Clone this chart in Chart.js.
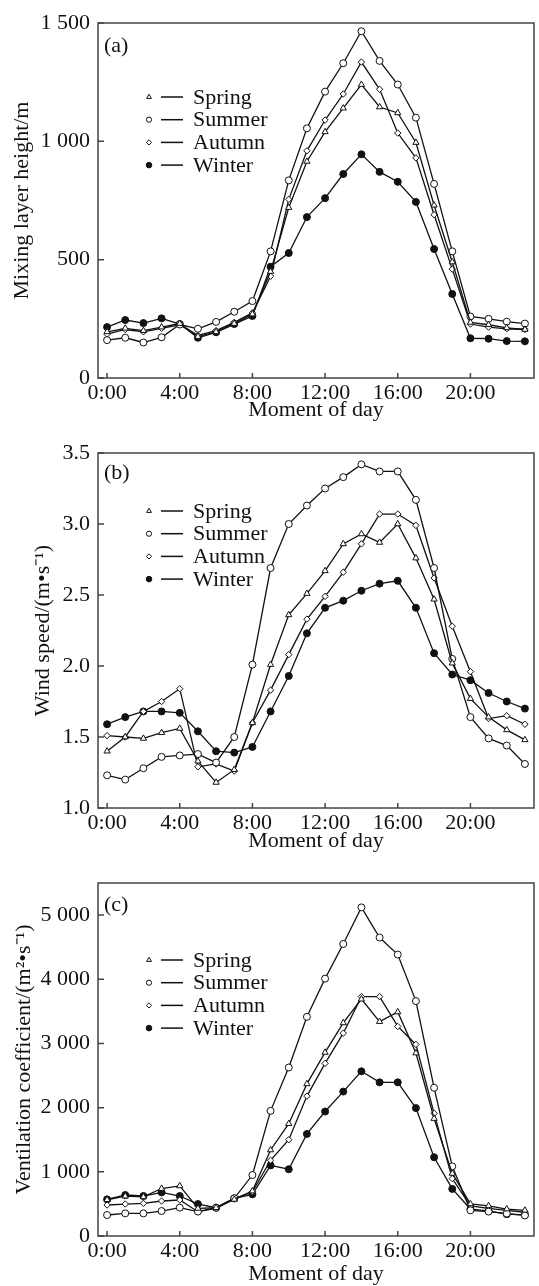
<!DOCTYPE html>
<html>
<head>
<meta charset="utf-8">
<script src="https://cdn.jsdelivr.net/npm/chart.js@4.4.0/dist/chart.umd.min.js"></script>
<style>
  html, body { margin: 0; padding: 0; background: #fff; }
  .panel { position: absolute; left: 0; width: 539px; }
  #wrapA { top: 0; }
  #wrapB { top: 430px; }
  #wrapC { top: 860px; }
</style>
</head>
<body>
<div class="panel" id="wrapA"><canvas id="chartA" width="539" height="430"></canvas></div>
<div class="panel" id="wrapB"><canvas id="chartB" width="539" height="430"></canvas></div>
<div class="panel" id="wrapC"><canvas id="chartC" width="539" height="426"></canvas></div>
<script>
const hours = [0, 1, 2, 3, 4, 5, 6, 7, 8, 9, 10, 11, 12, 13, 14, 15, 16, 17, 18, 19, 20, 21, 22, 23];
const hourTicks = [0, 4, 8, 12, 16, 20];
const seasons = ['Spring', 'Summer', 'Autumn', 'Winter'];

// (a) mixing layer height, m
const mlhSpring = [195, 210, 200, 215, 230, 175, 195, 230, 270, 450, 720, 915, 1040, 1140, 1240, 1145, 1120, 995, 730, 490, 235, 225, 212, 205];
const mlhSummer = [160, 170, 150, 172, 226, 208, 237, 280, 325, 535, 835, 1055, 1210, 1330, 1465, 1340, 1240, 1100, 820, 535, 260, 250, 238, 230];
const mlhAutumn = [185, 205, 195, 210, 225, 180, 200, 235, 275, 430, 755, 960, 1090, 1200, 1335, 1220, 1035, 930, 690, 460, 228, 215, 208, 205];
const mlhWinter = [215, 245, 232, 252, 228, 170, 193, 228, 262, 470, 528, 680, 760, 862, 945, 871, 829, 744, 545, 355, 168, 166, 156, 155];

// (b) wind speed, m/s
const wsSpring = [1.40, 1.50, 1.49, 1.53, 1.56, 1.33, 1.18, 1.27, 1.60, 2.01, 2.36, 2.51, 2.67, 2.86, 2.93, 2.87, 3.00, 2.76, 2.47, 2.02, 1.77, 1.64, 1.55, 1.48];
const wsSummer = [1.23, 1.20, 1.28, 1.36, 1.37, 1.38, 1.32, 1.50, 2.01, 2.69, 3.00, 3.13, 3.25, 3.33, 3.42, 3.37, 3.37, 3.17, 2.69, 2.05, 1.64, 1.49, 1.44, 1.31];
const wsAutumn = [1.51, 1.50, 1.68, 1.75, 1.84, 1.29, 1.31, 1.26, 1.60, 1.83, 2.08, 2.33, 2.49, 2.66, 2.86, 3.07, 3.07, 2.99, 2.62, 2.28, 1.96, 1.63, 1.65, 1.59];
const wsWinter = [1.59, 1.64, 1.68, 1.68, 1.67, 1.54, 1.40, 1.39, 1.43, 1.68, 1.93, 2.23, 2.41, 2.46, 2.53, 2.58, 2.60, 2.41, 2.09, 1.94, 1.90, 1.81, 1.75, 1.70];

// (c) ventilation coefficient, m2/s
const vcSpring = [565, 620, 610, 740, 780, 430, 440, 570, 700, 1340, 1750, 2370, 2860, 3320, 3690, 3340, 3490, 2850, 1830, 975, 500, 470, 420, 400];
const vcSummer = [327, 353, 353, 389, 441, 380, 441, 587, 950, 1950, 2625, 3415, 4010, 4550, 5120, 4650, 4385, 3660, 2310, 1085, 400, 380, 350, 320];
const vcAutumn = [483, 498, 509, 545, 561, 379, 430, 580, 690, 1180, 1500, 2180, 2690, 3160, 3730, 3730, 3265, 2985, 1910, 895, 470, 430, 400, 370];
const vcWinter = [571, 639, 623, 680, 623, 498, 441, 587, 649, 1100, 1040, 1590, 1940, 2250, 2566, 2394, 2394, 1993, 1227, 734, 420, 390, 340, 330];

const FONT = '"Liberation Serif", "Times New Roman", serif';
const INK = '#111';

// plot marker and the smaller legend marker for each season
const markers = [
    { pointStyle: 'triangle', radius: 3.6, legend: 2.8, fill: '#fff' },
    { pointStyle: 'circle', radius: 3.5, legend: 2.6, fill: '#fff' },
    { pointStyle: 'rectRot', radius: 3.2, legend: 2.6, fill: '#fff' },
    { pointStyle: 'circle', radius: 3.5, legend: 2.8, fill: INK }
];

function toXY(values) {
    return values.map((v, i) => ({ x: hours[i], y: v }));
}

function spaced(v) {
    return String(v).replace(/\B(?=(\d{3})+(?!\d))/g, ' ');
}

function drawMarker(ctx, m, x, y) {
    ctx.fillStyle = m.fill;
    ctx.strokeStyle = INK;
    ctx.lineWidth = 1;
    if (Chart.helpers && Chart.helpers.drawPoint) {
        Chart.helpers.drawPoint(ctx, { pointStyle: m.pointStyle, radius: m.legend, rotation: 0, borderWidth: 1 }, x, y);
    } else {
        ctx.beginPath();
        ctx.arc(x, y, m.legend, 0, Math.PI * 2);
        ctx.fill();
        ctx.stroke();
    }
}

const framePlugin = {
    id: 'frame',
    beforeDatasetsDraw(chart) {
        const { ctx, chartArea: a, scales: { x, y } } = chart;
        ctx.save();
        ctx.strokeStyle = '#444';
        ctx.lineWidth = 1.5;
        ctx.strokeRect(a.left, a.top, a.right - a.left, a.bottom - a.top);
        ctx.beginPath();
        hourTicks.forEach(v => {
            const px = x.getPixelForValue(v);
            ctx.moveTo(px, a.bottom);
            ctx.lineTo(px, a.bottom - 5);
        });
        y.ticks.forEach(t => {
            const py = y.getPixelForValue(t.value);
            ctx.moveTo(a.left, py);
            ctx.lineTo(a.left + 6, py);
        });
        ctx.stroke();
        ctx.restore();
    },
    afterDraw(chart, args, opts) {
        const { ctx, chartArea: a } = chart;
        ctx.save();
        ctx.font = '22px ' + FONT;
        ctx.fillStyle = INK;
        ctx.textBaseline = 'middle';
        ctx.fillText(opts.tag, a.left + 6, a.top + opts.tagDy);
        seasons.forEach((name, i) => {
            const ry = a.top + opts.legendTop + i * 22.7;
            drawMarker(ctx, markers[i], a.left + 51, ry);
            ctx.strokeStyle = INK;
            ctx.lineWidth = 1.5;
            ctx.beginPath();
            ctx.moveTo(a.left + 63, ry);
            ctx.lineTo(a.left + 85, ry);
            ctx.stroke();
            ctx.fillStyle = INK;
            ctx.font = '22px ' + FONT;
            ctx.fillText(name, a.left + 95, ry + 1);
        });
        ctx.restore();
    }
};

function makeChart(id, p) {
    const datasets = p.series.map((vals, i) => ({
        label: seasons[i],
        data: toXY(vals),
        borderColor: INK,
        borderWidth: 1.3,
        tension: 0,
        pointStyle: markers[i].pointStyle,
        pointRadius: markers[i].radius,
        pointBackgroundColor: markers[i].fill,
        pointBorderColor: INK,
        pointBorderWidth: 1
    }));

    new Chart(document.getElementById(id), {
        type: 'line',
        data: { datasets },
        options: {
            responsive: false,
            animation: false,
            layout: { padding: { top: 23, right: 1, left: 0, bottom: 0 } },
            plugins: {
                legend: { display: false },
                tooltip: { enabled: false },
                frame: { tag: p.tag, tagDy: p.tagDy, legendTop: p.legendTop }
            },
            scales: {
                x: {
                    type: 'linear',
                    min: -0.5,
                    max: 23.5,
                    afterBuildTicks: s => { s.ticks = hourTicks.map(v => ({ value: v })); },
                    afterFit: s => { s.height = p.xHeight; },
                    grid: { display: false, drawTicks: false },
                    border: { display: false },
                    ticks: {
                        font: { family: FONT, size: 22 },
                        color: INK,
                        padding: 2,
                        maxRotation: 0,
                        autoSkip: false,
                        callback: v => v + ':00'
                    },
                    title: {
                        display: true,
                        text: 'Moment of day',
                        color: INK,
                        font: { family: FONT, size: 22, lineHeight: 1 },
                        padding: { top: 0, bottom: p.xTitlePad }
                    }
                },
                y: {
                    min: p.min,
                    max: p.max,
                    afterBuildTicks: s => { s.ticks = p.yTicks.map(v => ({ value: v })); },
                    afterFit: s => { s.width = 98; },
                    grid: { display: false, drawTicks: false },
                    border: { display: false },
                    ticks: {
                        font: { family: FONT, size: 22 },
                        color: INK,
                        padding: 8,
                        callback: p.fmt
                    },
                    title: {
                        display: true,
                        text: p.yTitle,
                        color: INK,
                        font: { family: FONT, size: 22, lineHeight: 1 },
                        padding: { top: p.yTitlePad, bottom: 0 }
                    }
                }
            }
        },
        plugins: [framePlugin]
    });
}

makeChart('chartA', {
    series: [mlhSpring, mlhSummer, mlhAutumn, mlhWinter],
    min: 0, max: 1500, yTicks: [0, 500, 1000, 1500],
    fmt: v => spaced(v),
    yTitle: 'Mixing layer height/m', yTitlePad: 11,
    xHeight: 52, xTitlePad: 9,
    tag: '(a)', tagDy: 23, legendTop: 74
});

makeChart('chartB', {
    series: [wsSpring, wsSummer, wsAutumn, wsWinter],
    min: 1.0, max: 3.5, yTicks: [1.0, 1.5, 2.0, 2.5, 3.0, 3.5],
    fmt: v => v.toFixed(1),
    yTitle: 'Wind speed/(m\u2022s\u207B\u00B9)', yTitlePad: 32,
    xHeight: 52, xTitlePad: 8,
    tag: '(b)', tagDy: 20, legendTop: 58
});

makeChart('chartC', {
    series: [vcSpring, vcSummer, vcAutumn, vcWinter],
    min: 0, max: 5500, yTicks: [0, 1000, 2000, 3000, 4000, 5000],
    fmt: v => spaced(v),
    yTitle: 'Ventilation coefficient/(m\u00B2\u2022s\u207B\u00B9)', yTitlePad: 13,
    xHeight: 50, xTitlePad: 1,
    tag: '(c)', tagDy: 22, legendTop: 77
});
</script>
</body>
</html>
